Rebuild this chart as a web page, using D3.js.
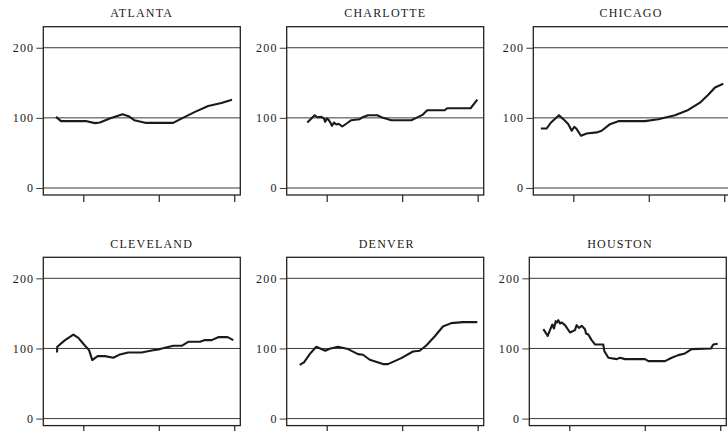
<!DOCTYPE html>
<html>
<head>
<meta charset="utf-8">
<script src="https://cdn.jsdelivr.net/npm/d3@7"></script>
<style>
  html, body { margin: 0; padding: 0; background: #fff; }
  svg { display: block; }
  text { font-family: "Liberation Serif", "Times New Roman", serif; fill: #1a1a1a; }
</style>
</head>
<body>
<script>
// ---- data ----
const cities = ["ATLANTA", "CHARLOTTE", "CHICAGO", "CLEVELAND", "DENVER", "HOUSTON"];
const yTicks = [0, 100, 200];
const xTicks = [1990, 2000, 2010];

const atlanta = [[1986.38,101.4],[1987.05,95.3],[1990.45,95.3],[1991.55,92.5],[1992.2,93.4],[1993.5,99],[1995.2,105.2],[1996.0,102.4],[1996.75,96.7],[1998.2,92.9],[2001.9,92.9],[2003.0,99],[2004.8,108.5],[2006.55,117],[2008.3,121.2],[2009.7,125.8]];
const charlotte = [[1987.43,93.4],[1988.41,103.8],[1988.75,100.9],[1989.28,101.4],[1989.64,99.1],[1989.8,94.3],[1990.04,99.1],[1990.26,97.2],[1990.48,93.4],[1990.7,88.7],[1990.97,93.4],[1991.27,90.6],[1991.59,91.5],[1992.07,87.7],[1992.82,93.4],[1993.26,96.7],[1994.37,98.1],[1994.68,100.5],[1995.47,103.8],[1996.7,103.8],[1997.46,100],[1998.56,96.7],[2001.21,96.7],[2001.87,100],[2002.75,104.7],[2003.32,110.8],[2005.63,110.8],[2005.97,113.7],[2009.07,113.7],[2009.95,125.9]];
const chicago = [[1985.7,84.9],[1986.48,84.9],[1987.05,93.4],[1988.1,103.8],[1988.9,95.8],[1989.34,91.0],[1989.79,81.6],[1990.13,87.3],[1990.45,84.0],[1991.02,74.5],[1991.77,77.8],[1993.1,79.3],[1993.76,81.6],[1994.86,91],[1995.96,95.3],[1999.5,95.3],[2001.26,98.1],[2003.47,103.8],[2005.23,111.3],[2006.78,121.7],[2007.88,133],[2008.77,143.4],[2009.87,148.6]];
const cleveland = [[1986.52,94.3],[1986.55,102.4],[1987.58,111.9],[1988.68,119.9],[1989.34,115.2],[1990.23,103.8],[1990.76,97.6],[1991.19,83.4],[1991.9,89.1],[1992.87,89.1],[1993.97,86.7],[1994.86,91.5],[1995.96,94.3],[1997.73,94.3],[1999.06,97.2],[2000.16,99.1],[2001.92,103.8],[2003.03,103.8],[2003.9,109.5],[2005.46,109.5],[2006.12,111.9],[2007.0,111.9],[2007.88,116.1],[2009.12,116.1],[2009.87,111.9]];
const denver = [[1986.42,76.7],[1986.99,80.1],[1987.75,91.9],[1988.62,102.4],[1989.81,96.7],[1990.4,99.5],[1991.5,102.4],[1991.93,101.4],[1992.82,99.1],[1994.15,91.9],[1994.81,91],[1995.7,83.9],[1997.46,77.7],[1998.12,77.7],[1999.88,86.2],[2001.43,95.7],[2002.32,96.7],[2003.19,104.3],[2004.3,117.1],[2005.4,131.3],[2006.5,136.1],[2008.05,137.5],[2009.95,137.5]];
const houston = [[1986.56,127.5],[1987.14,118],[1987.44,126.1],[1987.75,134.2],[1987.97,128.5],[1988.2,138.9],[1988.37,137],[1988.54,140.4],[1988.77,135.6],[1989.0,137],[1989.43,133.2],[1990.09,122.8],[1990.75,126.1],[1990.97,133.2],[1991.28,129.4],[1991.64,132.3],[1992.08,127.5],[1992.21,121.4],[1992.52,119.9],[1992.96,111.9],[1993.4,105.7],[1994.5,105.7],[1994.64,96.2],[1995.17,86.7],[1996.28,84.8],[1996.72,86.7],[1997.38,84.8],[2000.03,84.8],[2000.47,82],[2002.68,82],[2003.56,86.7],[2004.44,90.5],[2005.32,92.9],[2006.21,99.1],[2008.77,100],[2009.07,105.7],[2009.66,106.6]];
const series = [atlanta, charlotte, chicago, cleveland, denver, houston];

// ---- layout ----
const W = 728, H = 431;
const panelW = 197, panelH = 168.3;
const panelLeft = [43.3, 286.7, 533.3, 43.3, 286.7, 529.3];
const panelTop = [26.7, 26.7, 26.7, 257.3, 257.3, 257.3];
const titleX = [141.7, 385.3, 631, 151.7, 386.7, 620];
const titleY = [17.3, 17.3, 17.3, 247.7, 247.7, 247.7];

const svg = d3.select("body").append("svg").attr("width", W).attr("height", H);

const x = d3.scaleLinear().domain([1984.7, 2010.8]).range([0, panelW]);
const y = d3.scaleLinear().domain([-10, 230]).range([panelH, 0]);
const line = d3.line().x(d => x(d[0])).y(d => y(d[1]));

cities.forEach((name, i) => {
  const g = svg.append("g").attr("transform", `translate(${panelLeft[i]},${panelTop[i]})`);

  // gridlines
  g.selectAll("line.grid").data(yTicks).enter().append("line")
    .attr("class", "grid")
    .attr("x1", 0).attr("x2", panelW)
    .attr("y1", d => y(d)).attr("y2", d => y(d))
    .attr("stroke", "#3a3a3a").attr("stroke-width", 1);

  // y axis
  const ya = g.append("g").call(d3.axisLeft(y).tickValues(yTicks).tickSize(7).tickPadding(2));
  ya.select(".domain").remove();
  ya.selectAll(".tick line").attr("stroke", "#3a3a3a");
  ya.selectAll(".tick text").attr("font-size", 12).attr("letter-spacing", "1.2px")
    .attr("font-family", "Liberation Serif").attr("fill", "#1a1a1a");

  // x axis
  const xa = g.append("g").attr("transform", `translate(0,${panelH})`)
    .call(d3.axisBottom(x).tickValues(xTicks).tickSize(7).tickFormat(""));
  xa.select(".domain").remove();
  xa.selectAll(".tick line").attr("stroke", "#222").attr("stroke-width", 1.2);

  // frame
  g.append("rect").attr("x", 0).attr("y", 0).attr("width", panelW).attr("height", panelH)
    .attr("fill", "none").attr("stroke", "#222").attr("stroke-width", 1.3);

  // data line
  g.append("path").datum(series[i]).attr("d", line)
    .attr("fill", "none").attr("stroke", "#1a1a1a").attr("stroke-width", 2.1)
    .attr("stroke-linejoin", "round").attr("stroke-linecap", "butt");

  // title
  svg.append("text").attr("x", titleX[i]).attr("y", titleY[i])
    .attr("text-anchor", "middle").attr("font-size", 12).attr("letter-spacing", "1.2px")
    .text(name);
});
</script>
</body>
</html>
